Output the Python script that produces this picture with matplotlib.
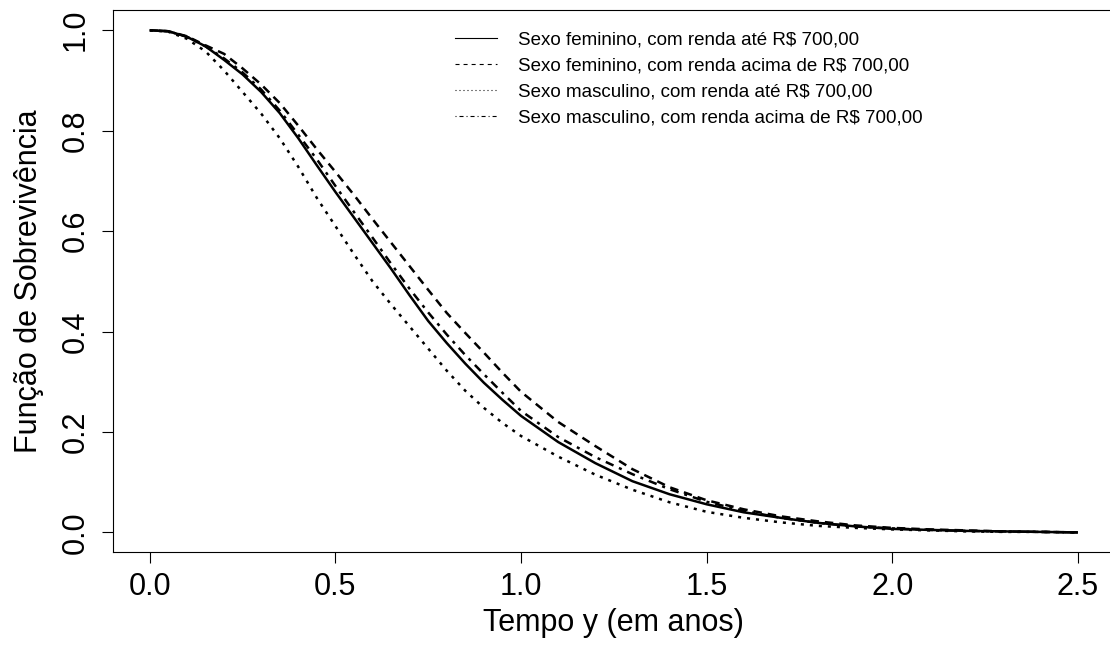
import numpy as np
import matplotlib
matplotlib.use('Agg')
import matplotlib.pyplot as plt
from matplotlib.lines import Line2D

plt.rcParams['font.family'] = ['Liberation Sans', 'DejaVu Sans']
plt.rcParams['lines.scale_dashes'] = False

tempo = [0, 0.05, 0.1, 0.15, 0.2, 0.25, 0.3, 0.35, 0.4, 0.45, 0.5, 0.55, 0.6, 0.65, 0.7, 0.75,
         0.8, 0.85, 0.9, 0.95, 1.0, 1.1, 1.2, 1.3, 1.4, 1.5, 1.6, 1.7, 1.8, 1.9, 2.0,
         2.1, 2.2, 2.3, 2.4, 2.5]

fem_ate = [1.0, 0.998, 0.987, 0.968, 0.941, 0.912, 0.877, 0.835, 0.785, 0.731, 0.678, 0.627,
           0.576, 0.525, 0.472, 0.421, 0.377, 0.336, 0.298, 0.264, 0.232, 0.180, 0.138, 0.102,
           0.076, 0.056, 0.040, 0.029, 0.019, 0.012, 0.007, 0.005, 0.003, 0.002, 0.001, 0.0]

fem_acima = [1.0, 0.998, 0.988, 0.970, 0.953, 0.924, 0.892, 0.855, 0.810, 0.763, 0.718, 0.672,
             0.624, 0.577, 0.530, 0.483, 0.437, 0.397, 0.358, 0.318, 0.280, 0.220, 0.172, 0.126,
             0.090, 0.064, 0.046, 0.032, 0.022, 0.014, 0.009, 0.006, 0.004, 0.002, 0.001, 0.0]

masc_ate = [1.0, 0.997, 0.983, 0.958, 0.920, 0.877, 0.834, 0.785, 0.728, 0.666, 0.610, 0.554,
            0.500, 0.454, 0.410, 0.366, 0.322, 0.282, 0.248, 0.218, 0.192, 0.151, 0.115, 0.085,
            0.060, 0.041, 0.029, 0.020, 0.013, 0.009, 0.006, 0.004, 0.002, 0.001, 0.001, 0.0]

masc_acima = [1.0, 0.998, 0.987, 0.968, 0.944, 0.916, 0.882, 0.840, 0.792, 0.743, 0.690, 0.638,
              0.587, 0.535, 0.485, 0.438, 0.394, 0.353, 0.315, 0.278, 0.242, 0.190, 0.150, 0.116,
              0.086, 0.061, 0.043, 0.029, 0.019, 0.012, 0.008, 0.005, 0.003, 0.002, 0.001, 0.0]

rotulos = ['Sexo feminino, com renda até R$ 700,00',
           'Sexo feminino, com renda acima de R$ 700,00',
           'Sexo masculino, com renda até R$ 700,00',
           'Sexo masculino, com renda acima de R$ 700,00']

# padroes de traco tipo R (lty 1..4), em pontos
tracos_curva = [None, (0, (6.1, 4.3)), (0, (2.2, 4.3)), (0, (2.2, 4.3, 6.1, 4.3))]
tracos_legenda = [None, (0, (2.9, 2.9)), (0, (0.72, 2.16)), (0, (0.72, 2.16, 2.9, 2.16))]

fig = plt.figure(figsize=(11.1, 6.55), dpi=100)
ax = fig.add_axes([0.1015, 0.1565, 0.903, 0.828])

series = [fem_ate, fem_acima, masc_ate, masc_acima]
for s, tr in zip(series, tracos_curva):
    if tr is None:
        ax.plot(tempo, s, color='black', lw=1.8, solid_capstyle='butt')
    else:
        ax.plot(tempo, s, color='black', lw=1.8, linestyle=tr, dash_capstyle='butt')

ax.set_xlim(-0.1, 2.6)
ax.set_ylim(-0.04, 1.04)
ax.set_xticks([0.0, 0.5, 1.0, 1.5, 2.0, 2.5])
ax.set_xticklabels(['0.0', '0.5', '1.0', '1.5', '2.0', '2.5'])
ax.set_yticks([0.0, 0.2, 0.4, 0.6, 0.8, 1.0])
ax.set_yticklabels(['0.0', '0.2', '0.4', '0.6', '0.8', '1.0'])
ax.tick_params(axis='both', direction='out', length=7.9, width=0.8, labelsize=22, color='black')
ax.tick_params(axis='x', pad=6)
ax.tick_params(axis='y', pad=8)
for lab in ax.get_yticklabels():
    lab.set_rotation(90)
    lab.set_va('center')
    lab.set_ha('right')
for sp in ax.spines.values():
    sp.set_linewidth(0.8)
ax.spines['right'].set_visible(False)

ax.set_xlabel('Tempo y (em anos)', fontsize=22)
ax.set_ylabel('Função de Sobrevivência', fontsize=22)
ax.xaxis.set_label_coords(0.5, -0.103)
ax.yaxis.set_label_coords(-0.069, 0.5)

handles = []
for tr in tracos_legenda:
    if tr is None:
        handles.append(Line2D([], [], color='black', lw=0.8))
    else:
        handles.append(Line2D([], [], color='black', lw=0.8, linestyle=tr))
ax.legend(handles, rotulos, loc='upper left', bbox_to_anchor=(0.3416, 0.96), frameon=False,
          fontsize=13.5, handlelength=2.24, handletextpad=1.1, labelspacing=0.47,
          borderpad=0, borderaxespad=0)

fig.savefig('out.png', dpi=100)
